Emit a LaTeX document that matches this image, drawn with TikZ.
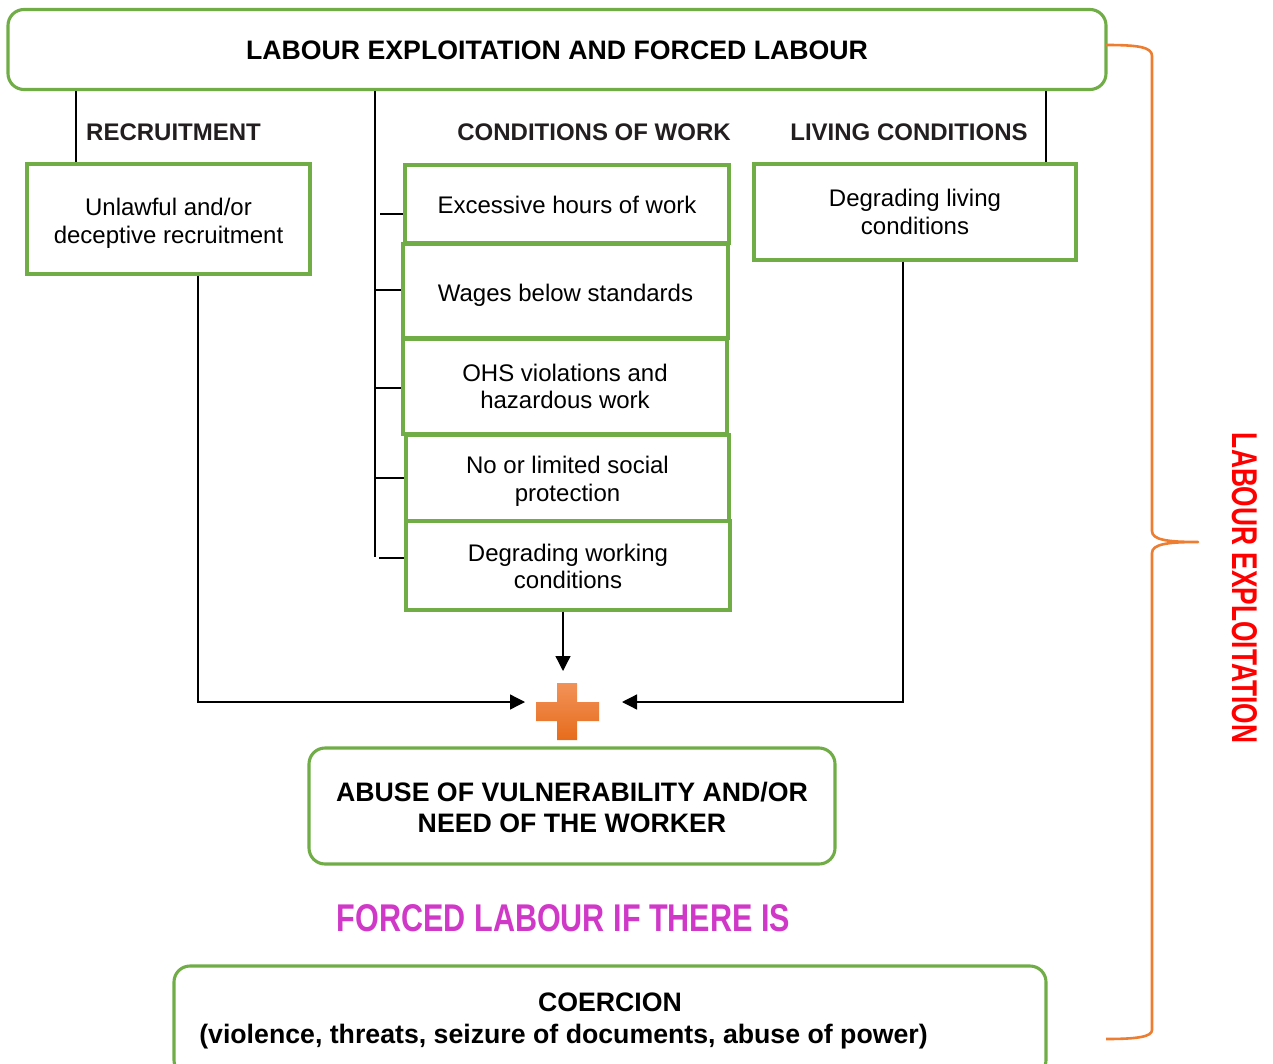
\documentclass[tikz,border=0pt]{standalone}
\usepackage{fontspec}
\setmainfont{Liberation Sans}
\usepackage{graphicx}
\usetikzlibrary{arrows.meta}
\definecolor{lgreen}{RGB}{112,173,71}
\definecolor{lorange}{RGB}{237,125,49}
\definecolor{lmagenta}{RGB}{208,56,200}
\definecolor{headgray}{RGB}{34,30,32}
\newcommand\lowerby[1]{\rule{0pt}{#1}}
\begin{document}
\begin{tikzpicture}[x=1pt,y=-1pt,
  gbox/.style={draw=lgreen, line width=3.1pt, inner sep=0pt, align=center,
    font=\fontsize{24}{27.5}\selectfont},
  rbox/.style={gbox, rounded corners=16pt},
  bigbold/.style={font=\fontsize{26.7}{31}\selectfont\bfseries, inner sep=0pt},
  head/.style={font=\fontsize{24}{28}\selectfont\bfseries, text=headgray, inner sep=0pt},
  thin/.style={line width=1.3pt, black},
  arr/.style={thin, -{Triangle[length=15pt,width=15pt]}},
  brace/.style={draw=lorange, line width=2.6pt, line join=round}
]
\useasboundingbox (0,0) rectangle (1273,1064);
\clip (0,0) rectangle (1273,1064);

% top box
\node[rbox, minimum width=1098pt, minimum height=80pt, bigbold] (top) at (557,49.5)
  {\lowerby{21pt}LABOUR EXPLOITATION AND FORCED LABOUR};

% headings
\node[head, anchor=west] (rechead) at (86,132) {RECRUITMENT};
\node[head] (cowhead) at (594,132) {CONDITIONS OF WORK};
\node[head] (livhead) at (909,132) {LIVING CONDITIONS};

% boxes
\node[gbox, minimum width=283pt, minimum height=110pt] (recbox) at (168.5,219)
  {\lowerby{25.5pt}Unlawful and/or\\deceptive recruitment};
\node[gbox, minimum width=322pt, minimum height=96pt] (livbox) at (915,212)
  {Degrading living\\conditions};
\node[gbox, minimum width=324pt, minimum height=78pt] (b1) at (567,204)
  {\lowerby{19.5pt}Excessive hours of work};
\node[gbox, minimum width=325pt, minimum height=94pt] (b2) at (565.5,291)
  {\lowerby{25.5pt}Wages below standards};
\node[gbox, minimum width=324pt, minimum height=95pt] (b3) at (565,386.5)
  {OHS violations and\\hazardous work};
\node[gbox, minimum width=323pt, minimum height=86pt] (b4) at (567.5,478)
  {\lowerby{23.5pt}No or limited social\\protection};
\node[gbox, minimum width=324pt, minimum height=89pt] (b5) at (568,565.5)
  {\lowerby{19pt}Degrading working\\conditions};

% connectors from top box
\coordinate (xa) at (76,0);
\coordinate (xb) at (375,0);
\coordinate (xc) at (1046,0);
\draw[thin] (top.south -| xa) -- (recbox.north -| xa);
\draw[thin] (top.south -| xc) -- (livbox.north -| xc);
\draw[thin] (top.south -| xb) -- (375,557);
\draw[thin] (380,214) -- (b1.west |- 380,214);
\draw[thin] (375,290) -- (b2.west |- 375,290);
\draw[thin] (375,388) -- (b3.west |- 375,388);
\draw[thin] (375,478) -- (b4.west |- 375,478);
\draw[thin] (379,558) -- (b5.west |- 379,558);

% plus sign
\shade[top color={rgb,255:red,242;green,146;blue,88}, bottom color={rgb,255:red,230;green,108;blue,28}]
  (557,683) -- (577,683) -- (577,702) -- (599,702) -- (599,721) -- (577,721)
  -- (577,740) -- (557,740) -- (557,721) -- (536,721) -- (536,702) -- (557,702) -- cycle;
\coordinate (pL) at (525,702);
\coordinate (pR) at (622,702);
\coordinate (pT) at (563,671);

\draw[arr] ([xshift=29.5pt]recbox.south) |- (pL);
\draw[arr] ([xshift=-12pt]livbox.south) |- (pR);
\draw[arr] ([xshift=-5pt]b5.south) -- (pT);

% abuse box
\node[rbox, minimum width=526pt, minimum height=116pt, bigbold, align=center] (abuse) at (572,806)
  {\lowerby{23pt}ABUSE OF VULNERABILITY AND/OR\\NEED OF THE WORKER};

% forced labour
\node[inner sep=0pt, text=lmagenta] (flt) at (563.5,918.5)
  {\resizebox{453pt}{27pt}{\bfseries FORCED LABOUR IF THERE IS}};

% coercion box
\node[rbox, minimum width=872pt, minimum height=110pt] (coebox) at (610,1021) {};
\node[bigbold] (coe1) at (610,1002) {COERCION};
\node[bigbold] (coe2) at (563.5,1036.5) {(violence, threats, seizure of documents, abuse of power)};

% brace
\draw[brace] (1106,45) .. controls (1138,45) and (1152,47) .. (1152,56)
  -- (1152,531) .. controls (1152,540) and (1168,542) .. (1198,542)
  .. controls (1168,542) and (1152,544) .. (1152,553)
  -- (1152,1030) .. controls (1152,1037) and (1136,1039) .. (1106,1039);

% vertical label
\node[inner sep=0pt, text=red, rotate=-90] (lexp) at (1244.5,588)
  {\resizebox{310pt}{25pt}{\bfseries LABOUR EXPLOITATION}};
\end{tikzpicture}
\end{document}
